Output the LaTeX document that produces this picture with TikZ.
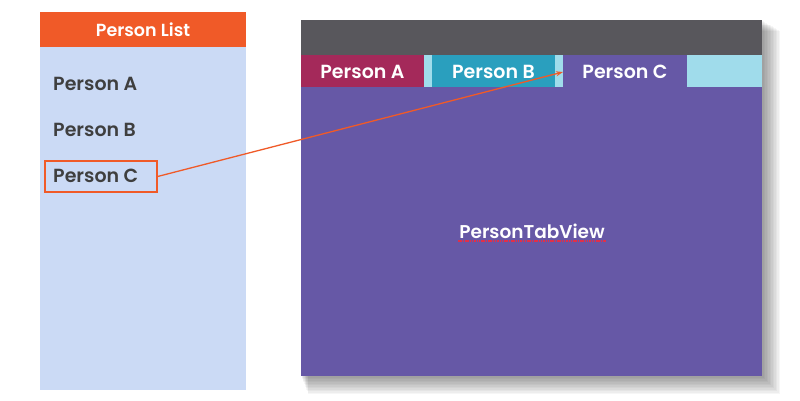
\documentclass[tikz,border=0pt]{standalone}
\usepackage{fontspec}
\setmainfont{Poppins}
\newfontfamily\semi{Poppins SemiBold}
\usetikzlibrary{arrows.meta}
\definecolor{orng}{HTML}{F05A28}
\definecolor{lblue}{HTML}{CBDAF5}
\definecolor{txtgray}{HTML}{3F3F3F}
\definecolor{dgray}{HTML}{58575C}
\definecolor{crim}{HTML}{A4295A}
\definecolor{teal}{HTML}{2A9FBE}
\definecolor{purp}{HTML}{6658A6}
\definecolor{pale}{HTML}{A0DCEB}
\definecolor{squig}{HTML}{E0304A}
\tikzset{
  listitem/.style={anchor=west, inner sep=0pt, text=txtgray, font=\semi\fontsize{19}{22}\selectfont},
  tabtxt/.style={text=white, font=\semi\fontsize{19}{22}\selectfont},
  conn/.style={draw=orng, line width=1.3pt, -{Stealth[length=7pt,width=5pt]}}
}
\begin{document}
\begin{tikzpicture}[x=1pt,y=-1pt]
\useasboundingbox (0,0) rectangle (800,400);
\fill[white] (0,0) rectangle (800,400);
% left panel
\fill[lblue] (40,47) rectangle (246,390);
\fill[orng] (40,12) rectangle (246,47);
\node[text=white, font=\semi\fontsize{17.5}{20}\selectfont] (title) at (143,30) {Person List};
\node[listitem] (pa) at (53,84) {Person A};
\node[listitem] (pb) at (53,130) {Person B};
\node[listitem] (pc) at (53,176) {Person C};
\node[draw=orng, line width=1.2pt, minimum width=112pt, minimum height=31pt, inner sep=0pt] (pcbox) at (101,176.5) {};
% shadow
\foreach \i in {1,...,12}{
  \fill[black, opacity=0.035] (301+\i*0.6,20+\i*0.9) rectangle (762+\i*1.5,376+\i*1.5);
}
% right window
\fill[dgray] (301,20) rectangle (762,55);
\fill[pale] (301,55) rectangle (762,87);
\fill[purp] (301,87) rectangle (762,376);
\fill[crim] (301,55) rectangle (424,87);
\fill[teal] (432,55) rectangle (555,87);
\fill[purp] (563,55) rectangle (687,87);
\node[tabtxt] (ta) at (362.5,72) {Person A};
\node[tabtxt] (tb) at (493.5,72) {Person B};
\node[tabtxt] (tc) at (625,72) {Person C};
\node[text=white, font=\semi\fontsize{18.5}{21}\selectfont, inner sep=1pt] (ptv) at (532,231) {PersonTabView};
\draw[squig, dash pattern=on 1.5pt off 0.8pt, line width=1.1pt] ([yshift=-1.5pt]ptv.south west) -- ([yshift=-1.5pt]ptv.south east);
\coordinate (tcin) at (563,72);
\draw[conn] (pcbox.east) -- (tcin);
\end{tikzpicture}
\end{document}
